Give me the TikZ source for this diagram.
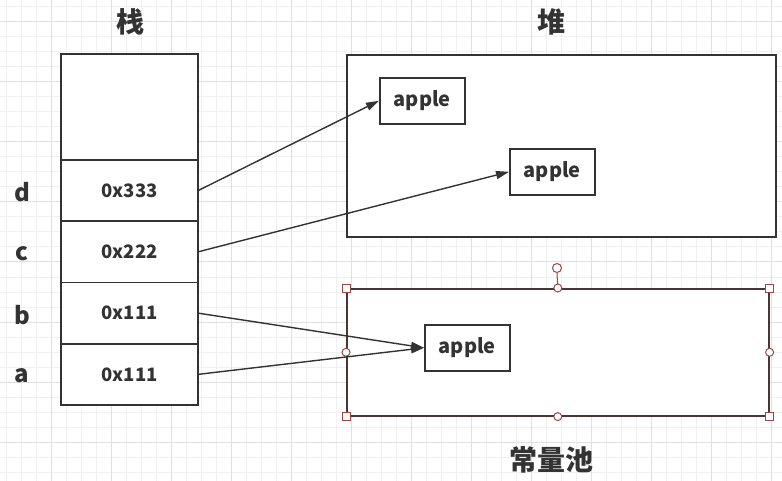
\documentclass[tikz,border=0pt]{standalone}
\usepackage{fontspec}
\setmainfont{Noto Sans CJK SC}
\usetikzlibrary{arrows.meta}
\usetikzlibrary{positioning}
\definecolor{inkgray}{HTML}{333333}
\definecolor{minorgrid}{HTML}{F0F0F0}
\definecolor{majorgrid}{HTML}{E0E0E0}
\definecolor{handlered}{HTML}{A04545}
\definecolor{poolborder}{HTML}{4A3535}

\begin{document}
\begin{tikzpicture}[x=1pt,y=-1pt,
		cell/.style={draw=inkgray,line width=1.6pt,minimum width=137pt,minimum height=61.25pt,
			outer sep=0pt,inner sep=0pt,font=\fontsize{18.5}{22}\selectfont\bfseries,text=inkgray},
		objbox/.style={draw=inkgray,line width=1.6pt,minimum width=85pt,minimum height=46pt,
			inner sep=0pt,font=\fontsize{20}{24}\selectfont\bfseries,text=inkgray},
		area/.style={draw=inkgray,line width=1.6pt,inner sep=0pt,anchor=north west},
		varlab/.style={font=\fontsize{24}{28}\selectfont\bfseries,text=inkgray},
		title/.style={font=\fontsize{28}{32}\selectfont\bfseries,text=inkgray},
		ptr/.style={draw=inkgray,line width=1.4pt,-{Triangle[length=13pt,width=8pt]}},
		handlesq/.style={draw=handlered,fill=white,line width=1pt,minimum size=8pt,inner sep=0pt},
		handlecirc/.style={draw=handlered,fill=white,line width=1pt,circle,minimum size=9pt,inner sep=0pt}]
		
		\useasboundingbox (0,0) rectangle (782,481);
		\fill[white] (0,0) rectangle (782,481);
		
		% grid paper
		\foreach \gx in {6,21,...,781} \draw[minorgrid,line width=1pt] (\gx,0) -- (\gx,481);
		\foreach \gy in {7,22,...,481} \draw[minorgrid,line width=1pt] (0,\gy) -- (782,\gy);
		\foreach \gx in {51,111,...,781} \draw[majorgrid,line width=1pt] (\gx,0) -- (\gx,481);
		\foreach \gy in {22,82,...,481} \draw[majorgrid,line width=1pt] (0,\gy) -- (782,\gy);
		
		% stack
		\node[title] (stacktitle) at (130,22) {栈};
		\node[cell,minimum height=106pt,anchor=north west,fill=white] (stacktop) at (61,54) {};
		\node[cell,fill=white,below=0pt of stacktop] (celld) {0x333};
		\node[cell,fill=white,below=0pt of celld] (cellc) {0x222};
		\node[cell,fill=white,below=0pt of cellc] (cellb) {0x111};
		\node[cell,fill=white,below=0pt of cellb] (cella) {0x111};
		
		\node[varlab] (labd) at ([xshift=-39pt,yshift=-1.5pt]celld.west) {d};
		\node[varlab] (labc) at ([xshift=-39pt,yshift=-1.5pt]cellc.west) {c};
		\node[varlab] (labb) at ([xshift=-39pt,yshift=-1.5pt]cellb.west) {b};
		\node[varlab] (laba) at ([xshift=-39pt,yshift=-1.5pt]cella.west) {a};
		
		% heap
		\node[title] (heaptitle) at (551,22) {堆};
		\node[area,fill=white,minimum width=429pt,minimum height=182pt] (heap) at (346,54) {};
		\node[objbox,fill=white,anchor=north west] (apple1) at (379,77) {apple};
		\node[objbox,fill=white,anchor=north west] (apple2) at (509,148) {apple};
		
		% constant pool (selected)
		\node[area,draw=poolborder,fill=white,minimum width=422pt,minimum height=127pt] (pool) at (346,288) {};
		\node[objbox,fill=white,anchor=north west] (apple3) at (424,324) {apple};
		\node[title] (pooltitle) at (551,460) {常量池};
		
		\node[handlecirc] (rot) at (557,268) {};
		\draw[handlered,line width=1pt] (rot.south) -- (pool.north);
		\node[handlesq] at (pool.north west) {};
		\node[handlesq] at (pool.north east) {};
		\node[handlesq] at (pool.south west) {};
		\node[handlesq] at (pool.south east) {};
		\node[handlecirc,minimum size=8pt] at (pool.north) {};
		\node[handlecirc,minimum size=8pt] at (pool.south) {};
		\node[handlecirc,minimum size=8pt] at (pool.west) {};
		\node[handlecirc,minimum size=8pt] at (pool.east) {};
		
		% references
		\draw[ptr] (celld.east) -- (apple1.west);
		\draw[ptr] (cellc.east) -- (apple2.west);
		\draw[ptr] (cellb.east) -- (apple3.west);
		\draw[ptr] (cella.east) -- (apple3.west);
		
\end{tikzpicture}
\end{document}
